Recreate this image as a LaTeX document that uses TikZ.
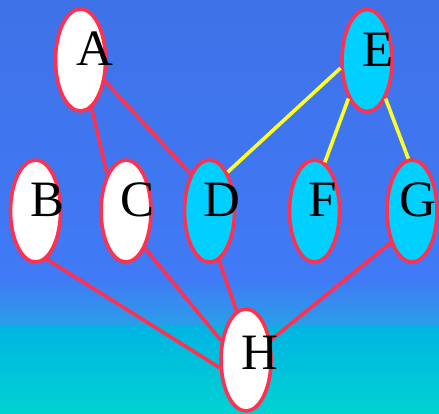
\documentclass[tikz,border=0pt]{standalone}
\usepackage{fontspec}
\setmainfont{Liberation Serif}
\usetikzlibrary{shapes.geometric}
\definecolor{edgered}{RGB}{255,48,80}
\definecolor{edgeyel}{RGB}{255,255,40}
\definecolor{nodecyan}{RGB}{0,208,255}
\definecolor{bgtop}{RGB}{62,114,232}
\definecolor{bgmid}{RGB}{64,122,246}
\definecolor{bglow}{RGB}{40,160,232}
\definecolor{bgcy}{RGB}{0,180,226}
\definecolor{bgbot}{RGB}{0,210,210}
\tikzset{
  vert/.style={ellipse, draw=edgered, line width=3.6pt, minimum width=50pt, minimum height=102pt, inner sep=0pt},
  wvert/.style={vert, fill=white},
  cvert/.style={vert, fill=nodecyan},
  lab/.style={anchor=base, inner sep=0pt, font=\fontsize{51}{51}\selectfont},
  redge/.style={draw=edgered, line width=3.6pt},
  yedge/.style={draw=edgeyel, line width=3.6pt},
}
\begin{document}
\begin{tikzpicture}[x=1pt,y=-1pt]
\useasboundingbox (0,0) rectangle (439,413);
\shade[top color=bgtop, bottom color=bgmid] (0,0) rectangle (439,280);
\shade[top color=bgmid, bottom color=bglow] (0,279.5) rectangle (439,327);
\shade[top color=bgcy, bottom color=bgbot] (0,326.5) rectangle (439,413);
% vertices
\node[wvert] (A) at (80.5,60) {};
\node[cvert] (E) at (367,60.5) {};
\node[wvert] (B) at (35.5,211) {};
\node[wvert] (C) at (126,211) {};
\node[cvert] (D) at (209.5,211) {};
\node[cvert] (F) at (314.5,211) {};
\node[cvert] (G) at (412,211) {};
\node[wvert] (H) at (246,360) {};
% edges
\draw[redge] (A.-77) -- (C.117);
\draw[redge] (A.-41) -- (D.117);
\draw[yedge] (E.196) -- (D.65);
\draw[yedge] (E.244) -- (F.78);
\draw[yedge] (E.-64) -- (G.94);
\draw[redge] (B.-77) -- (H.196);
\draw[redge] (C.-63) -- (H.142);
\draw[redge] (D.-79) -- (H.101);
\draw[redge] (G.236) -- (H.39);
% labels
\node[lab] (lA) at (94.5,65.5) {A};
\node[lab] (lE) at (378,66) {E};
\node[lab] (lB) at (47.5,216.5) {B};
\node[lab] (lC) at (138,216.5) {C};
\node[lab] (lD) at (222,216.5) {D};
\node[lab] (lF) at (323,216.5) {F};
\node[lab] (lG) at (418,216.5) {G};
\node[lab] (lH) at (260,369.5) {H};
\end{tikzpicture}
\end{document}
